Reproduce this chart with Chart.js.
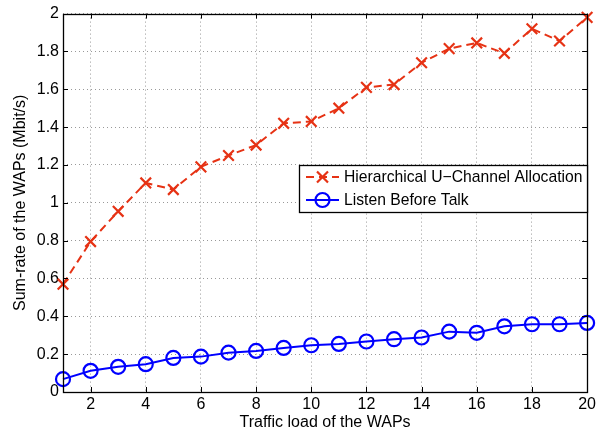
<!DOCTYPE html>
<html>
<head>
<meta charset="utf-8">
<script src="https://cdn.jsdelivr.net/npm/chart.js@4/dist/chart.umd.min.js"></script>
<style>
  html, body { margin: 0; padding: 0; background: #fff; }
  #wrap { width: 599px; height: 432px; }
</style>
</head>
<body>
<div id="wrap"><canvas id="myChart" width="599" height="432"></canvas></div>
<script>
// traffic load (x) and the two series
const trafficLoad = [1, 2, 3, 4, 5, 6, 7, 8, 9, 10, 11, 12, 13, 14, 15, 16, 17, 18, 19, 20];
const hucaValues = [0.57, 0.795, 0.955, 1.105, 1.07, 1.19, 1.25, 1.305, 1.42, 1.43, 1.50, 1.61, 1.625, 1.74, 1.815, 1.845, 1.79, 1.92, 1.855, 1.98];
const lbtValues = [0.068, 0.112, 0.133, 0.147, 0.180, 0.187, 0.208, 0.217, 0.233, 0.247, 0.254, 0.267, 0.279, 0.288, 0.319, 0.313, 0.347, 0.358, 0.358, 0.365];
const xTicks = [2, 4, 6, 8, 10, 12, 14, 16, 18, 20];
const yTicks = [0, 0.2, 0.4, 0.6, 0.8, 1, 1.2, 1.4, 1.6, 1.8, 2];
const seriesNames = ['Hierarchical U\u2212Channel Allocation', 'Listen Before Talk'];

const RED = 'rgb(230,50,20)';
const BLUE = 'rgb(0,0,255)';
const FONT = '"Liberation Sans", Arial, Helvetica, sans-serif';

function toPoints(vals) {
    return vals.map(function (v, i) { return { x: trafficLoad[i], y: v }; });
}

// box + inward tick marks, like the matlab axes
const matlabBox = {
    id: 'matlabBox',
    afterDatasetsDraw(chart) {
        const { ctx, chartArea: { top, right, bottom, left } } = chart;
        const xs = chart.scales.x, ys = chart.scales.y;
        ctx.save();
        ctx.strokeStyle = '#000';
        ctx.lineWidth = 1;
        ctx.beginPath();
        xTicks.forEach(function (t) {
            const px = Math.round(xs.getPixelForValue(t)) + 0.5;
            ctx.moveTo(px, bottom); ctx.lineTo(px, bottom - 5);
            ctx.moveTo(px, top); ctx.lineTo(px, top + 5);
        });
        yTicks.forEach(function (t) {
            const py = Math.round(ys.getPixelForValue(t)) + 0.5;
            ctx.moveTo(left, py); ctx.lineTo(left + 5, py);
            ctx.moveTo(right, py); ctx.lineTo(right - 5, py);
        });
        ctx.stroke();
        ctx.lineWidth = 1.3;
        ctx.strokeRect(Math.round(left) + 0.5, Math.round(top) + 0.5, Math.round(right - left), Math.round(bottom - top));
        ctx.restore();
    }
};

// legend box inside the axes
const boxLegend = {
    id: 'boxLegend',
    afterDraw(chart) {
        const ctx = chart.ctx;
        const bx = 299.5, by = 165.5, bw = 288, bh = 47;
        ctx.save();
        ctx.fillStyle = '#fff';
        ctx.fillRect(bx, by, bw, bh);
        ctx.strokeStyle = '#000';
        ctx.lineWidth = 1.3;
        ctx.strokeRect(bx, by, bw, bh);
        const rows = [177, 200];
        chart.data.datasets.forEach(function (ds, i) {
            const y = rows[i];
            ctx.strokeStyle = ds.borderColor;
            ctx.lineWidth = 2;
            ctx.setLineDash(ds.borderDash || []);
            ctx.beginPath();
            ctx.moveTo(306, y); ctx.lineTo(339, y);
            ctx.stroke();
            ctx.setLineDash([]);
            ctx.lineWidth = 2.2;
            ctx.beginPath();
            if (ds.pointStyle === 'crossRot') {
                ctx.moveTo(322.5 - 5.5, y - 5.5); ctx.lineTo(322.5 + 5.5, y + 5.5);
                ctx.moveTo(322.5 - 5.5, y + 5.5); ctx.lineTo(322.5 + 5.5, y - 5.5);
            } else {
                ctx.arc(322.5, y, 7, 0, Math.PI * 2);
            }
            ctx.stroke();
            ctx.fillStyle = '#000';
            ctx.font = '15.7px ' + FONT;
            ctx.textBaseline = 'middle';
            ctx.textAlign = 'left';
            ctx.fillText(ds.label, 344, y + 1);
        });
        ctx.restore();
    }
};

const ctx = document.getElementById('myChart').getContext('2d');
const myChart = new Chart(ctx, {
    type: 'line',
    data: {
        datasets: [{
            label: seriesNames[0],
            data: toPoints(hucaValues),
            borderColor: RED,
            borderWidth: 2,
            borderDash: [8, 5],
            pointStyle: 'crossRot',
            pointRadius: 7.5,
            pointBorderWidth: 2.2,
            pointBorderColor: RED,
            backgroundColor: 'transparent',
            fill: false,
            tension: 0,
            clip: false
        }, {
            label: seriesNames[1],
            data: toPoints(lbtValues),
            borderColor: BLUE,
            borderWidth: 2,
            pointStyle: 'circle',
            pointRadius: 7,
            pointBorderWidth: 2.2,
            pointBorderColor: BLUE,
            pointBackgroundColor: 'transparent',
            backgroundColor: 'transparent',
            fill: false,
            tension: 0,
            clip: false
        }]
    },
    options: {
        responsive: false,
        animation: false,
        layout: { padding: { left: 0, right: 9, top: 11, bottom: 0 } },
        plugins: {
            legend: { display: false },
            tooltip: { enabled: false }
        },
        scales: {
            x: {
                type: 'linear',
                min: 1,
                max: 20,
                afterBuildTicks: function (scale) {
                    scale.ticks = xTicks.map(function (v) { return { value: v }; });
                },
                afterFit: function (scale) { scale.height = 40; },
                ticks: {
                    color: '#000',
                    padding: 3,
                    maxRotation: 0,
                    font: { family: FONT, size: 16 },
                    callback: function (v) { return String(v); }
                },
                grid: { color: '#999', lineWidth: 1, drawTicks: false },
                border: { display: false, dash: [1, 3] },
                title: {
                    display: true,
                    text: 'Traffic load of the WAPs',
                    color: '#000',
                    font: { family: FONT, size: 16 },
                    padding: { top: 0, bottom: 0 }
                }
            },
            y: {
                type: 'linear',
                min: 0,
                max: 2,
                afterBuildTicks: function (scale) {
                    scale.ticks = yTicks.map(function (v) { return { value: v }; });
                },
                afterFit: function (scale) { scale.width = 63; },
                ticks: {
                    color: '#000',
                    padding: 4,
                    font: { family: FONT, size: 16 },
                    callback: function (v) { return String(Math.round(v * 10) / 10); }
                },
                grid: { color: '#999', lineWidth: 1, drawTicks: false },
                border: { display: false, dash: [1, 3] },
                title: {
                    display: true,
                    text: 'Sum-rate of the WAPs (Mbit/s)',
                    color: '#000',
                    font: { family: FONT, size: 16 },
                    padding: { top: 11, bottom: 2 }
                }
            }
        }
    },
    plugins: [matlabBox, boxLegend]
});
</script>
</body>
</html>
